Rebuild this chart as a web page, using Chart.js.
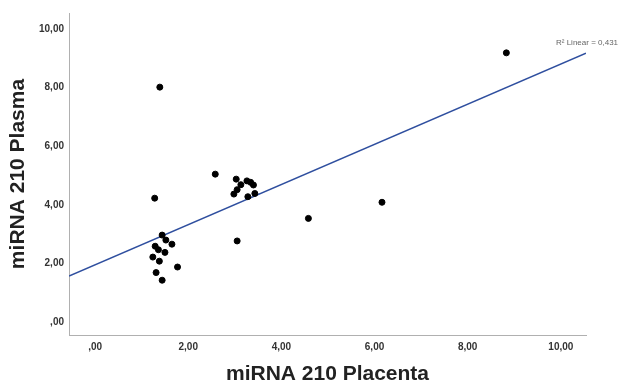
<!DOCTYPE html>
<html>
<head>
<meta charset="utf-8">
<script src="https://cdn.jsdelivr.net/npm/chart.js@4/dist/chart.umd.min.js"></script>
<style>
  html, body { margin: 0; padding: 0; background: #fff; }
  #wrap { width: 622px; height: 388px; }
</style>
</head>
<body>
<div id="wrap"><canvas id="scatterChart"></canvas></div>
<script>
// values
const placenta = [1.39, 2.58, 1.28, 1.44, 1.52, 1.65, 1.29, 1.36, 1.50, 1.24, 1.38, 1.77, 1.31, 1.44,
                  3.03, 2.98, 3.05, 3.13, 3.26, 3.34, 3.40, 3.28, 3.43, 3.05, 4.58, 6.16, 8.83];
const plasma   = [8.02, 5.05, 4.23, 2.97, 2.80, 2.66, 2.59, 2.47, 2.38, 2.22, 2.08, 1.88, 1.69, 1.43,
                  4.88, 4.37, 4.52, 4.69, 4.82, 4.77, 4.68, 4.28, 4.39, 2.77, 3.54, 4.09, 9.19];
const fitX = [-0.56, 10.54];
const fitY = [1.57, 9.18];
const fitLabel = "R\u00B2 Linear = 0,431";
const tickValues = [0, 2, 4, 6, 8, 10];

const fmt = v => v === 0 ? ",00" : v.toFixed(2).replace(".", ",");

const r2Label = {
    id: "r2Label",
    afterDatasetsDraw(chart) {
        const {ctx, scales: {x, y}} = chart;
        const ex = x.getPixelForValue(fitX[1]);
        const ey = y.getPixelForValue(fitY[1]);
        ctx.save();
        ctx.font = "8px 'Liberation Sans', Arial, sans-serif";
        ctx.fillStyle = "#666";
        ctx.textBaseline = "middle";
        ctx.fillText(fitLabel, ex - 30, ey - 10);
        ctx.restore();
    }
};

const ctx = document.getElementById("scatterChart").getContext("2d");
new Chart(ctx, {
    type: "scatter",
    data: {
        datasets: [
            {
                data: placenta.map((v, i) => ({x: v, y: plasma[i]})),
                backgroundColor: "#000",
                borderColor: "#000",
                pointRadius: 3,
                pointHoverRadius: 3,
            },
            {
                type: "line",
                data: fitX.map((v, i) => ({x: v, y: fitY[i]})),
                borderColor: "#2f4f9f",
                borderWidth: 1.6,
                pointRadius: 0,
                fill: false,
            },
        ],
    },
    plugins: [r2Label],
    options: {
        responsive: true,
        maintainAspectRatio: false,
        animation: false,
        layout: { padding: { top: 13, right: 36, left: 0, bottom: 0 } },
        plugins: { legend: { display: false }, tooltip: { enabled: false } },
        scales: {
            x: {
                type: "linear",
                min: -0.56,
                max: 10.54,
                afterFit: s => { s.height = 53; },
                afterBuildTicks: s => { s.ticks = tickValues.map(v => ({value: v})); },
                grid: { display: false, drawTicks: false },
                border: { display: true, color: "#b0b0b0", width: 1 },
                ticks: {
                    padding: 6,
                    maxRotation: 0,
                    color: "#333",
                    font: { family: "'Liberation Sans', Arial, sans-serif", size: 10, weight: "bold" },
                    callback: v => fmt(v),
                },
                title: {
                    display: true,
                    text: "miRNA 210 Placenta",
                    color: "#222",
                    padding: { top: 0, bottom: 1 },
                    font: { family: "'Liberation Sans', Arial, sans-serif", size: 21, weight: "bold" },
                },
            },
            y: {
                type: "linear",
                min: -0.44,
                max: 10.55,
                afterFit: s => { s.width = 69; },
                afterBuildTicks: s => { s.ticks = tickValues.map(v => ({value: v})); },
                grid: { display: false, drawTicks: false },
                border: { display: true, color: "#b0b0b0", width: 1 },
                ticks: {
                    padding: 5,
                    color: "#333",
                    font: { family: "'Liberation Sans', Arial, sans-serif", size: 10, weight: "bold" },
                    callback: v => fmt(v),
                },
                title: {
                    display: true,
                    text: "miRNA 210 Plasma",
                    color: "#222",
                    padding: { top: 6, bottom: 0 },
                    font: { family: "'Liberation Sans', Arial, sans-serif", size: 21, weight: "bold" },
                },
            },
        },
    },
});
</script>
</body>
</html>
